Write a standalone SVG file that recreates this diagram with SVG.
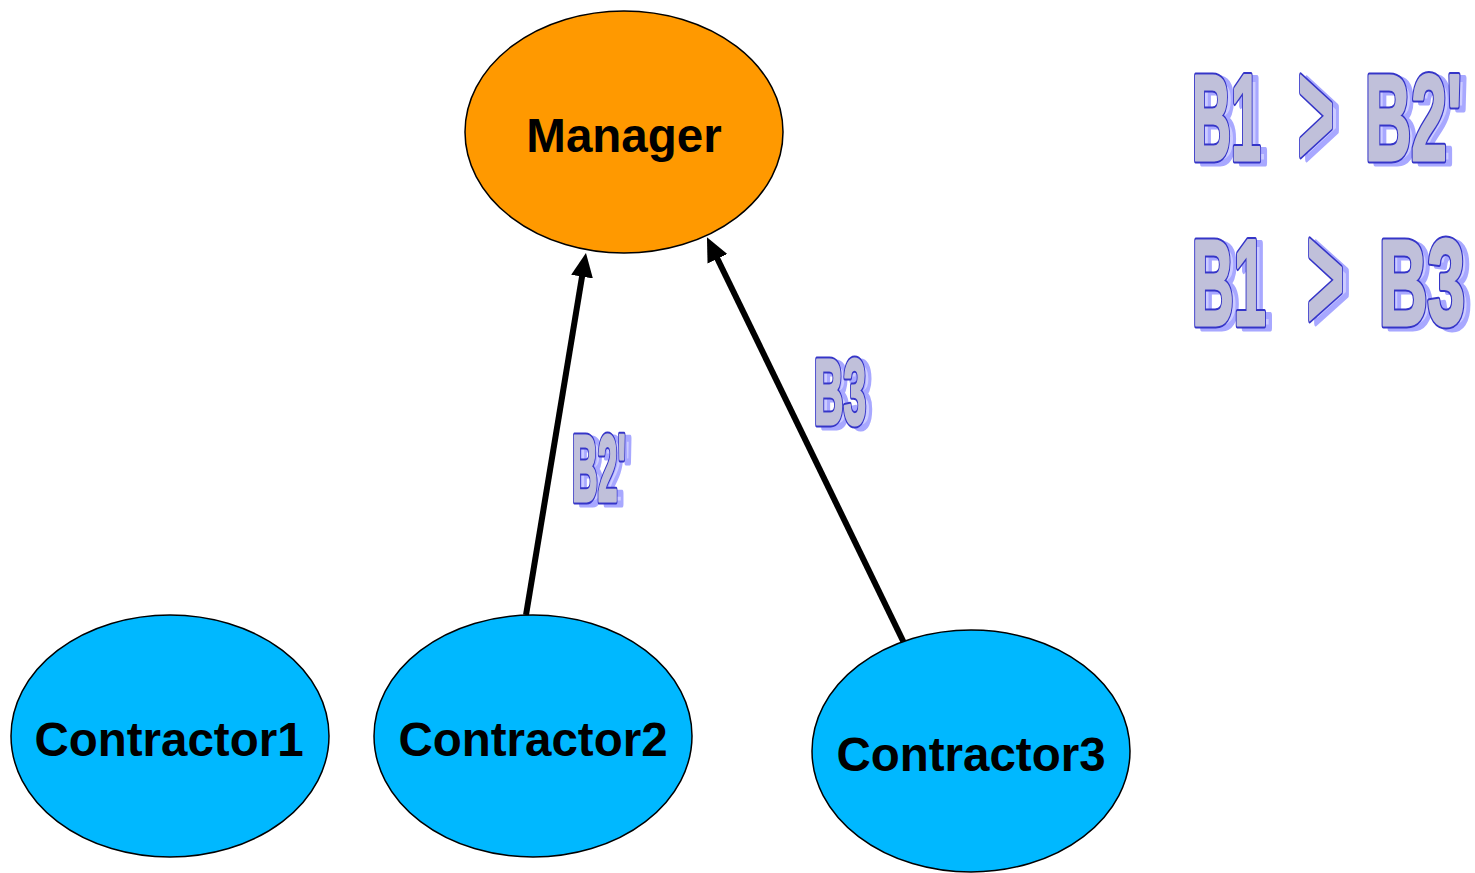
<svg xmlns="http://www.w3.org/2000/svg" xmlns:xlink="http://www.w3.org/1999/xlink" width="1475" height="873" viewBox="0 0 1475 873">
<style>
.node{stroke:#000;stroke-width:1.5}
.mgr{fill:#ff9900}
.con{fill:#00b8ff}
.lbl{font-family:"Liberation Sans",Arial,sans-serif;font-weight:bold;font-size:47.5px;fill:#000;text-anchor:middle}
.edge{stroke:#000;stroke-width:6;fill:none}
.wa{font-family:"Liberation Sans",Arial,sans-serif;font-weight:bold}
.sh{fill:#c4c4ff;stroke:#9a9aff;stroke-width:7;stroke-linejoin:round;opacity:0.85}
.mo{fill:#3535c8;stroke:#3535c8;stroke-width:7;stroke-linejoin:round}
.mn{fill:#c0c0da;stroke:#c0c0da;stroke-width:3;stroke-linejoin:round}
</style>
<defs>
<marker id="ah" viewBox="0 0 24 22" markerWidth="24" markerHeight="22" refX="12" refY="11" orient="auto" markerUnits="userSpaceOnUse">
<path d="M0,0 L24,11 L0,22 z" fill="#000"/>
</marker>
<text id="w1" class="wa" x="1192" y="160" font-size="122" textLength="69" lengthAdjust="spacingAndGlyphs">B1</text>
<text id="w2" class="wa" x="1298" y="165" font-size="148" textLength="36" lengthAdjust="spacingAndGlyphs">&gt;</text>
<text id="w3" class="wa" x="1365" y="160" font-size="122" textLength="97" lengthAdjust="spacingAndGlyphs">B2'</text>
<text id="w4" class="wa" x="1192" y="325" font-size="122" textLength="74" lengthAdjust="spacingAndGlyphs">B1</text>
<text id="w5" class="wa" x="1307" y="329" font-size="148" textLength="37" lengthAdjust="spacingAndGlyphs">&gt;</text>
<text id="w6" class="wa" x="1379" y="325" font-size="122" textLength="86" lengthAdjust="spacingAndGlyphs">B3</text>
<text id="w7" class="wa" x="814" y="424" font-size="92" textLength="52" lengthAdjust="spacingAndGlyphs">B3</text>
<text id="w8" class="wa" x="572" y="501" font-size="94" textLength="54" lengthAdjust="spacingAndGlyphs">B2'</text>
</defs>
<g id="edges">
<path class="edge" d="M526,615 L584,264.8" marker-end="url(#ah)"/>
<path class="edge" d="M905,645 L712.2,248" marker-end="url(#ah)"/>
</g>
<g id="manager">
<ellipse class="node mgr" cx="624" cy="132" rx="159" ry="121"/>
<text class="lbl" x="624" y="152">Manager</text>
</g>
<g id="contractor1">
<ellipse class="node con" cx="170" cy="736" rx="159" ry="121"/>
<text class="lbl" x="169" y="756">Contractor1</text>
</g>
<g id="contractor2">
<ellipse class="node con" cx="533" cy="736" rx="159" ry="121"/>
<text class="lbl" x="533" y="756">Contractor2</text>
</g>
<g id="contractor3">
<ellipse class="node con" cx="971" cy="751" rx="159" ry="121"/>
<text class="lbl" x="971" y="771">Contractor3</text>
</g>
<g id="label-b2">
<use xlink:href="#w8" class="sh" transform="translate(6,3)"/>
<use xlink:href="#w8" class="mo"/>
<use xlink:href="#w8" class="mn"/>
</g>
<g id="label-b3">
<use xlink:href="#w7" class="sh" transform="translate(6,3)"/>
<use xlink:href="#w7" class="mo"/>
<use xlink:href="#w7" class="mn"/>
</g>
<g id="rule1">
<use xlink:href="#w1" class="sh" transform="translate(6,3)"/>
<use xlink:href="#w2" class="sh" transform="translate(6,3)"/>
<use xlink:href="#w3" class="sh" transform="translate(6,3)"/>
<use xlink:href="#w1" class="mo"/>
<use xlink:href="#w2" class="mo"/>
<use xlink:href="#w3" class="mo"/>
<use xlink:href="#w1" class="mn"/>
<use xlink:href="#w2" class="mn"/>
<use xlink:href="#w3" class="mn"/>
</g>
<g id="rule2">
<use xlink:href="#w4" class="sh" transform="translate(6,3)"/>
<use xlink:href="#w5" class="sh" transform="translate(6,3)"/>
<use xlink:href="#w6" class="sh" transform="translate(6,3)"/>
<use xlink:href="#w4" class="mo"/>
<use xlink:href="#w5" class="mo"/>
<use xlink:href="#w6" class="mo"/>
<use xlink:href="#w4" class="mn"/>
<use xlink:href="#w5" class="mn"/>
<use xlink:href="#w6" class="mn"/>
</g>
</svg>
